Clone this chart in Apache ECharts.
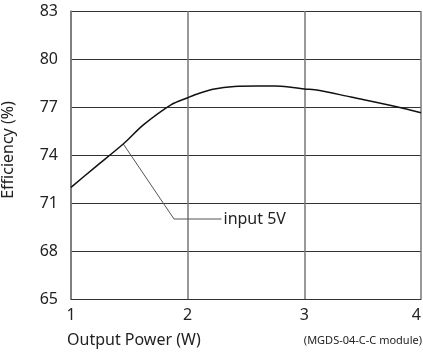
<!DOCTYPE html>
<html>
<head>
<meta charset="utf-8">
<script src="https://cdn.jsdelivr.net/npm/echarts@6/dist/echarts.min.js"></script>
<style>
  html, body { margin: 0; padding: 0; background: #fff; }
  #chart { width: 423px; height: 354px; }
</style>
</head>
<body>
<div id="chart"></div>
<script>
// Efficiency curve of the module, input 5V
const powerW = [1.0, 1.2, 1.45, 1.62, 1.86, 2.0, 2.1, 2.23, 2.4, 2.6, 2.75, 2.9, 3.0, 3.12, 3.4, 3.79, 4.0];
const efficiencyPct = [71.98, 73.2, 74.7, 75.88, 77.15, 77.58, 77.86, 78.13, 78.28, 78.31, 78.31, 78.22, 78.13, 78.05, 77.62, 77.02, 76.64];

// Leader line from the curve to the series label
const leaderX = [1.448, 1.883, 2.29];
const leaderY = [74.69, 70.0, 70.0];
const seriesLabel = 'input 5V';

const yTicks = [65, 68, 71, 74, 77, 80, 83];
const xTicks = [1, 2, 3, 4];

const FONT = 'Noto Sans';
const chart = echarts.init(document.getElementById('chart'));

chart.setOption({
  animation: false,
  backgroundColor: '#fff',
  grid: { left: 71, right: 2, top: 11, bottom: 55, containLabel: false, outerBoundsMode: 'none' },
  xAxis: {
    type: 'value',
    min: xTicks[0],
    max: xTicks[xTicks.length - 1],
    interval: 1,
    axisLine: { show: true, lineStyle: { color: '#333', width: 1 } },
    axisTick: { show: false },
    axisLabel: { color: '#222', fontFamily: FONT, fontSize: 16, margin: 8, alignMaxLabel: 'right' },
    splitLine: { show: true, lineStyle: { color: '#777', width: 1.5 } }
  },
  yAxis: {
    type: 'value',
    min: yTicks[0],
    max: yTicks[yTicks.length - 1],
    interval: 3,
    name: 'Efficiency (%)',
    nameLocation: 'middle',
    nameGap: 55,
    nameTextStyle: { color: '#222', fontFamily: FONT, fontSize: 16, padding: [0, 0, 0, 10] },
    axisLine: { show: true, lineStyle: { color: '#777', width: 1.5 } },
    axisTick: { show: false },
    axisLabel: { color: '#222', fontFamily: FONT, fontSize: 16, margin: 13 },
    splitLine: { show: true, lineStyle: { color: '#333', width: 1 } }
  },
  series: [
    {
      type: 'line',
      data: powerW.map((x, i) => [x, efficiencyPct[i]]),
      symbol: 'none',
      smooth: 0.3,
      lineStyle: { color: '#111', width: 1.5 },
      z: 3
    },
    {
      type: 'line',
      data: leaderX.map((x, i) => [x, leaderY[i]]),
      symbol: 'none',
      lineStyle: { color: '#555', width: 1 },
      endLabel: {
        show: true,
        formatter: seriesLabel,
        color: '#222',
        fontFamily: FONT,
        fontSize: 16,
        distance: 2
      },
      z: 2
    }
  ],
  graphic: [
    {
      type: 'text',
      left: 67,
      top: 332,
      style: { text: 'Output Power (W)', fill: '#222', font: '16px "Noto Sans"' }
    },
    {
      type: 'text',
      right: 1,
      top: 335,
      style: { text: '(MGDS-04-C-C module)', fill: '#222', font: '11px "Noto Sans"' }
    }
  ]
});
</script>
</body>
</html>
